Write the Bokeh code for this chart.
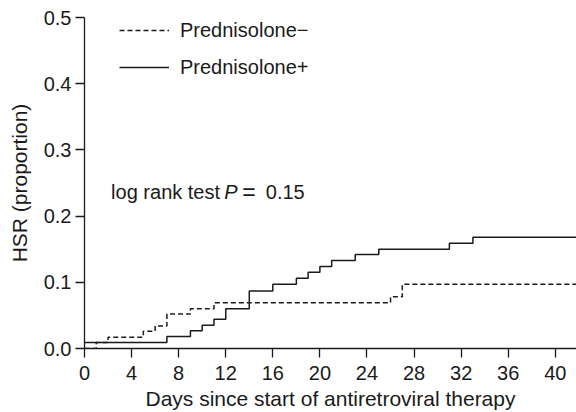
from bokeh.plotting import figure
from bokeh.models import Range1d, FixedTicker, PrintfTickFormatter, Legend, LegendItem, Label
from bokeh.embed import file_html
from bokeh.resources import INLINE

# ---- data ----
x_end = 41.8
minus_days = [0, 1, 2, 5, 6, 7, 9, 11, 26, 27]
minus_hsr = [0.0, 0.009, 0.017, 0.026, 0.034, 0.052, 0.060, 0.069, 0.078, 0.097]
plus_days = [0, 7, 9, 10, 11, 12, 14, 16, 18, 19, 20, 21, 23, 25, 31, 33]
plus_hsr = [0.009, 0.018, 0.027, 0.035, 0.044, 0.060, 0.087, 0.097, 0.106, 0.115,
            0.124, 0.133, 0.142, 0.150, 0.159, 0.168]
x_ticks = [0, 4, 8, 12, 16, 20, 24, 28, 32, 36, 40]
y_ticks = [0.0, 0.1, 0.2, 0.3, 0.4, 0.5]
label_minus = "Prednisolone\u2212"
label_plus = "Prednisolone+"

FONT = "Liberation Sans"
INK = "#1a1a1a"

p = figure(width=576, height=412, output_backend="svg", toolbar_location=None,
           x_range=Range1d(0, x_end), y_range=Range1d(0, 0.5),
           min_border_left=84, min_border_right=0, min_border_top=17, min_border_bottom=64)
p.frame_width = 492
p.frame_height = 331
p.outline_line_color = None
p.xgrid.visible = False
p.ygrid.visible = False
p.background_fill_color = "white"

r_minus = p.step(minus_days + [x_end], minus_hsr + [minus_hsr[-1]], mode="after",
                 line_color=INK, line_width=1.5, line_dash="5 3")
r_plus = p.step(plus_days + [x_end], plus_hsr + [plus_hsr[-1]], mode="after",
                line_color=INK, line_width=1.5)

for ax in (p.xaxis[0], p.yaxis[0]):
    ax.axis_line_color = INK
    ax.axis_line_width = 1.3
    ax.major_tick_line_color = INK
    ax.major_tick_line_width = 1.3
    ax.major_tick_out = 9
    ax.major_tick_in = 0
    ax.minor_tick_out = 0
    ax.minor_tick_in = 0
    ax.major_label_text_font = FONT
    ax.major_label_text_font_size = "20px"
    ax.major_label_text_color = INK
    ax.axis_label_text_font = FONT
    ax.axis_label_text_font_size = "21px"
    ax.axis_label_text_font_style = "normal"
    ax.axis_label_text_color = INK

p.xaxis.ticker = FixedTicker(ticks=x_ticks)
p.yaxis.ticker = FixedTicker(ticks=y_ticks)
p.yaxis.formatter = PrintfTickFormatter(format="%.1f")
p.xaxis.axis_label = "Days since start of antiretroviral therapy"
p.yaxis.axis_label = "HSR (proportion)"
p.xaxis.major_label_standoff = 8
p.xaxis.axis_label_standoff = 4
p.yaxis.major_label_standoff = 4
p.yaxis.axis_label_standoff = 10

legend = Legend(items=[LegendItem(label=label_minus, renderers=[r_minus]),
                       LegendItem(label=label_plus, renderers=[r_plus])],
                location=(35, 269), orientation="vertical",
                glyph_width=50, glyph_height=24, label_height=24, label_standoff=11,
                spacing=13, padding=0, margin=0,
                label_text_font=FONT, label_text_font_size="20px", label_text_color=INK,
                border_line_color=None, background_fill_alpha=0)
p.add_layout(legend)

lbl_kw = dict(y=0.2357, y_units="data", x_units="data", text_font=FONT,
              text_color=INK, text_baseline="alphabetic")
p.add_layout(Label(x=2.26, text="log rank test", text_font_size="20px", **lbl_kw))
p.add_layout(Label(x=11.87, text="P", text_font_style="italic", text_font_size="20px", **lbl_kw))
p.add_layout(Label(x=13.4, text="=", text_font_size="23px", **lbl_kw))
p.add_layout(Label(x=15.4, text="0.15", text_font_size="20px", **lbl_kw))

open("out.html", "w").write(file_html(p, INLINE))
